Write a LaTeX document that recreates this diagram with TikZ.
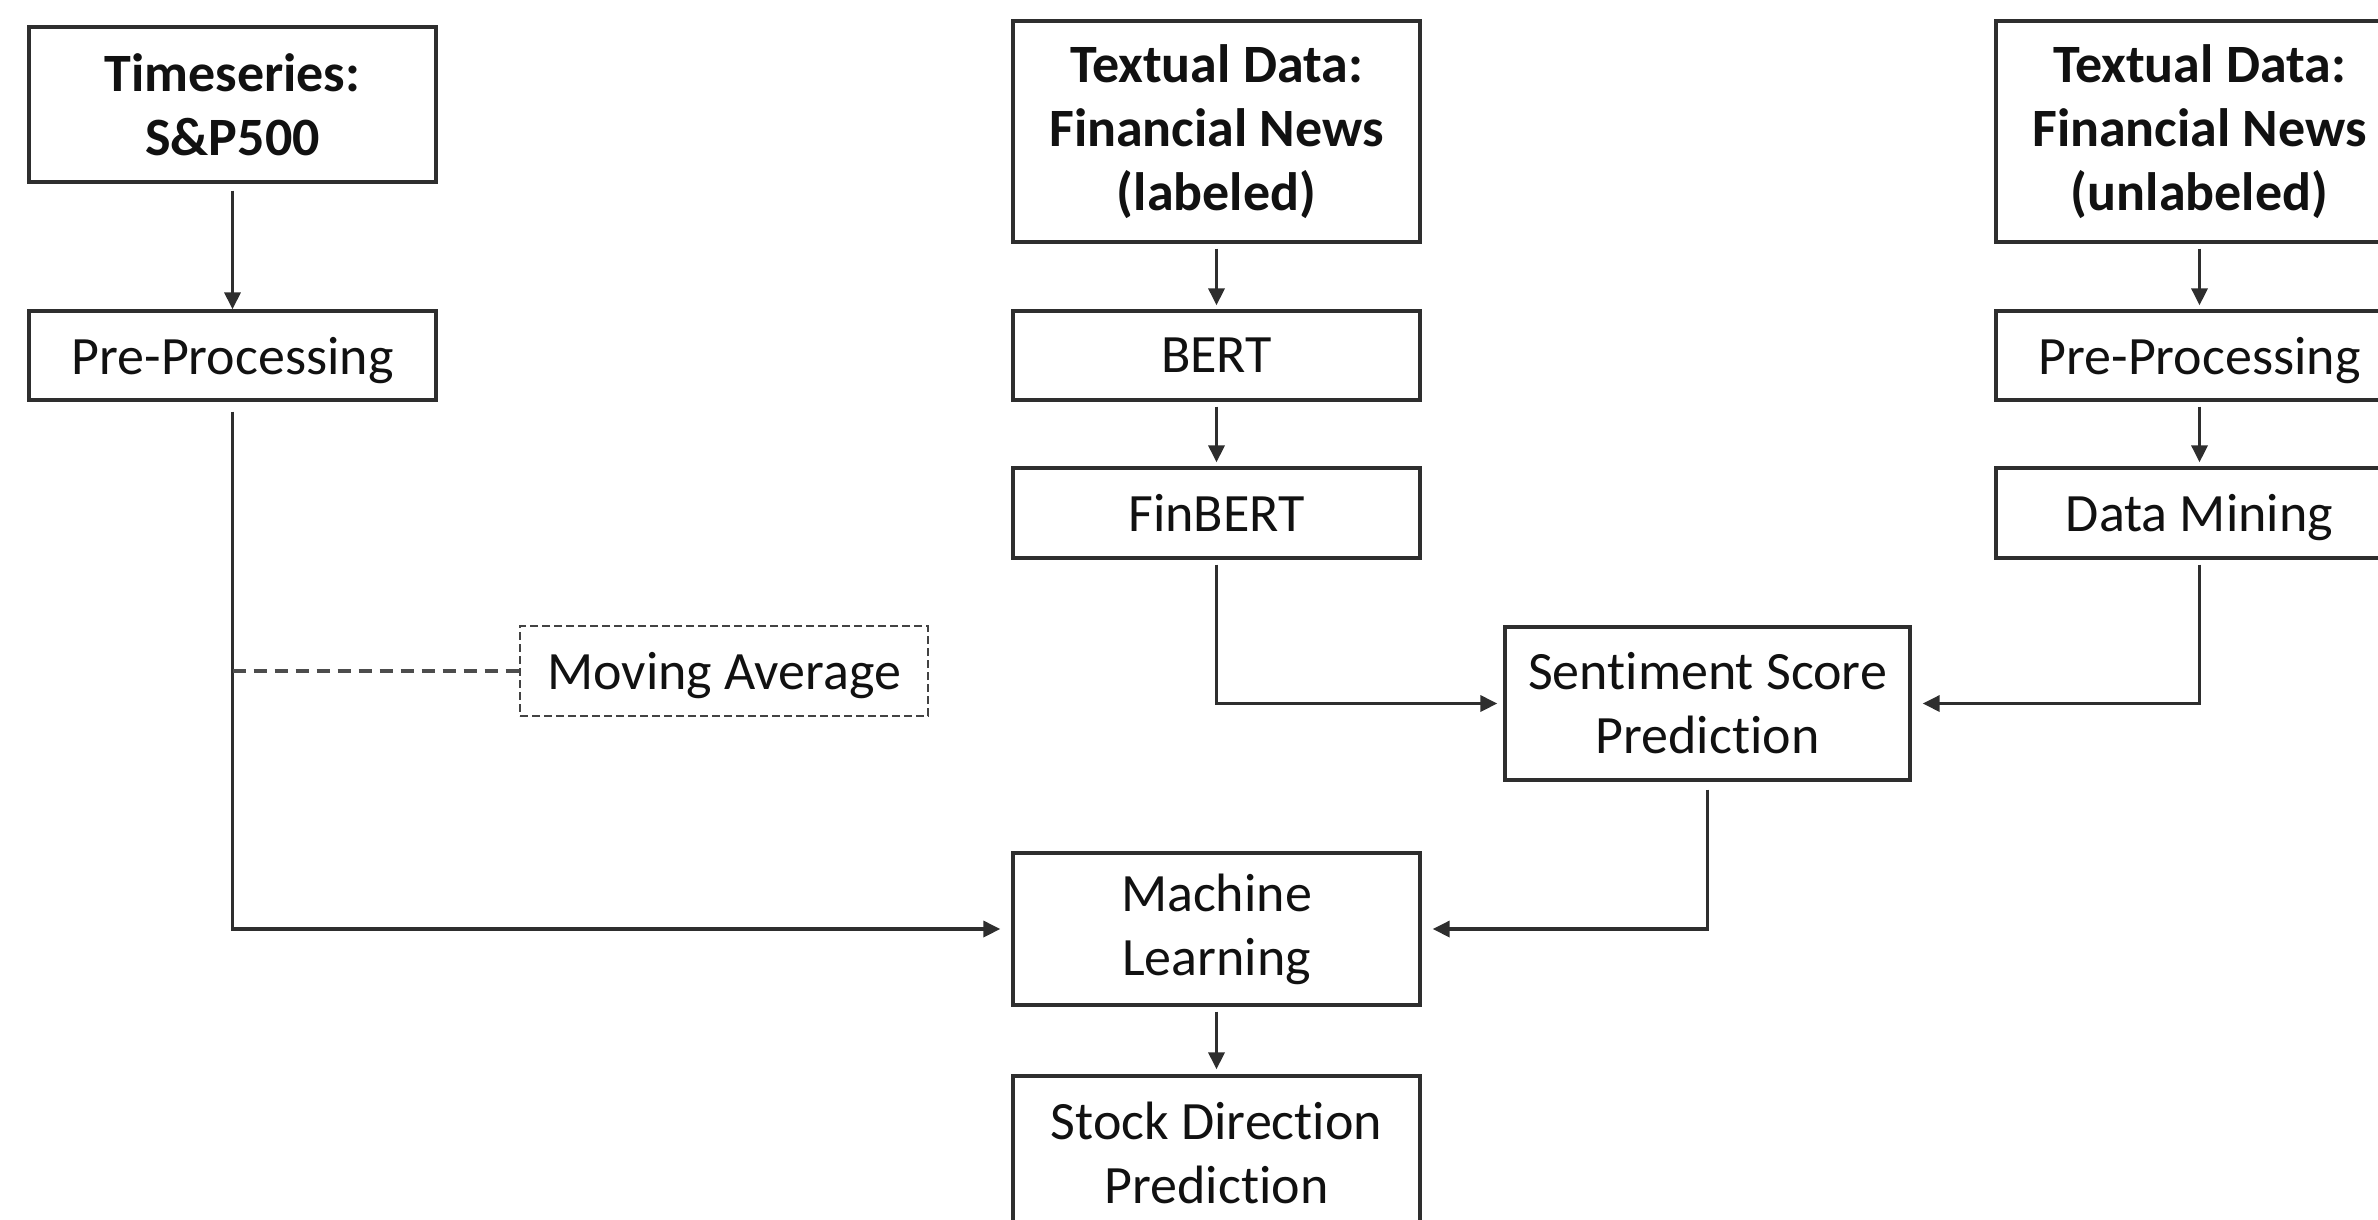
\documentclass[tikz,border=0pt]{standalone}
\usepackage{fontspec}
\setmainfont{Carlito}[Ligatures=NoCommon]
\usetikzlibrary{arrows.meta}
\definecolor{edge}{HTML}{2E2E2E}
\definecolor{ink}{HTML}{111111}
\begin{document}
\begin{tikzpicture}[x=1pt,y=-1pt,
  box/.style={draw=edge,line width=3.3pt,rectangle,inner sep=0pt,align=center,
    text=ink,font=\fontsize{54}{64}\selectfont,minimum width=407pt},
  oneline/.style={text depth=0pt},
  titlebox/.style={box,font=\fontsize{54}{64}\selectfont\bfseries},
  dashedframe/.style={box,draw=edge!90,line width=2.8pt,dash pattern=on 8pt off 4pt},
  flow/.style={draw=edge,line width=3.3pt,-{Triangle[length=17pt,width=16pt]}},
  dashlink/.style={draw=edge!85,line width=3.3pt,dash pattern=on 13pt off 8pt}]
\useasboundingbox (0,0) rectangle (2378,1219);
\clip (0,0) rectangle (2378,1219);

% left column: market time series
\node[titlebox,minimum height=155pt] (ts) at (232.5,104.5) {Timeseries:\\S\&P500};
\node[box,oneline,minimum height=89pt] (pre1) at (232.5,355.5) {Pre-Processing};
\node[dashedframe,oneline,minimum width=408pt,minimum height=90pt] (mavg) at (724,671) {Moving Average};

% middle column: labeled news
\node[titlebox,minimum height=221pt] (lab) at (1216.5,131.5) {Textual Data:\\Financial News\\(labeled)};
\node[box,oneline,minimum height=89pt] (bert) at (1216.5,355.5) {BERT};
\node[box,oneline,minimum height=90pt] (finbert) at (1216.5,513) {FinBERT};

% right column: unlabeled news
\node[titlebox,minimum height=221pt] (unlab) at (2199.5,131.5) {Textual Data:\\Financial News\\(unlabeled)};
\node[box,oneline,minimum height=89pt] (pre2) at (2199.5,355.5) {Pre-Processing};
\node[box,oneline,minimum height=90pt] (mining) at (2199.5,513) {Data Mining};

% merging stages
\node[box,minimum width=405pt,minimum height=153pt] (senti) at (1707.5,703.5) {Sentiment Score\\Prediction};
\node[box,minimum height=152pt] (ml) at (1216.5,929) {Machine\\Learning};
\node[box,minimum height=153pt] (stock) at (1216.5,1152.5) {Stock Direction\\Prediction};

% connectors
\draw[flow,shorten <=7pt] (ts) -- (pre1);
\draw[flow,shorten <=10pt,shorten >=11pt] (pre1.south) |- (ml.west);
\coordinate (tap) at (pre1.south |- mavg.west);
\draw[dashlink] (tap) -- (mavg.west);

\draw[flow,shorten <=5pt,shorten >=4pt] (lab) -- (bert);
\draw[flow,shorten <=5pt,shorten >=4pt] (bert) -- (finbert);
\draw[flow,shorten <=5pt,shorten >=6pt] (finbert.south) |- (senti.west);

\draw[flow,shorten <=5pt,shorten >=4pt] (unlab) -- (pre2);
\draw[flow,shorten <=5pt,shorten >=4pt] (pre2) -- (mining);
\draw[flow,shorten <=5pt,shorten >=11pt] (mining.south) |- (senti.east);

\draw[flow,shorten <=8pt,shorten >=11pt] (senti.south) |- (ml.east);
\draw[flow,shorten <=5pt,shorten >=5pt] (ml) -- (stock);
\end{tikzpicture}
\end{document}
